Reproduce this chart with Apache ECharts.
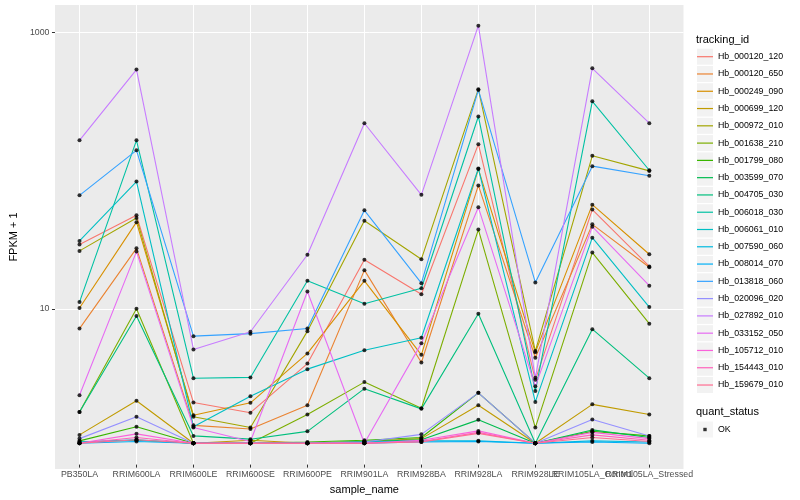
<!DOCTYPE html>
<html>
<head>
<meta charset="utf-8">
<script src="https://cdn.jsdelivr.net/npm/echarts@6/dist/echarts.min.js"></script>
<style>html,body{margin:0;padding:0;background:#fff}#c{width:800px;height:500px}</style>
</head>
<body>
<div id="c"></div>
<script>
// ---- data ----
const categories = ['PB350LA','RRIM600LA','RRIM600LE','RRIM600SE','RRIM600PE','RRIM901LA','RRIM928BA','RRIM928LA','RRIM928LE','RRIM105LA_Control','RRIM105LA_Stressed'];
const trackingIds = ['Hb_000120_120','Hb_000120_650','Hb_000249_090','Hb_000699_120','Hb_000972_010','Hb_001638_210','Hb_001799_080','Hb_003599_070','Hb_004705_030','Hb_006018_030','Hb_006061_010','Hb_007590_060','Hb_008014_070','Hb_013818_060','Hb_020096_020','Hb_027892_010','Hb_033152_050','Hb_105712_010','Hb_154443_010','Hb_159679_010'];
const colors = ['#F8766D','#EA8331','#D89000','#C09B00','#A3A500','#7CAE00','#39B600','#00BB4E','#00BF7D','#00C1A3','#00BFC4','#00BAE0','#00B0F6','#35A2FF','#9590FF','#C77CFF','#E76BF3','#FA62DB','#FF62BC','#FF6C91'];

// FPKM + 1 per sample, in category order
const hb_000120_120 = [28.2, 46, 1.98, 1.67, 3.81, 21.8, 12.2, 152, 2.9, 50.6, 19.5];
const hb_000120_650 = [6.86, 26.4, 1.35, 1.27, 1.89, 18.3, 3.88, 76, 4.2, 39.5, 19.2];
const hb_000249_090 = [9.7, 41, 1.6, 1.97, 4.52, 15.3, 4.41, 100, 4.6, 55, 23.9];
const hb_000699_120 = [1.15, 2.04, 1.0, 1.05, 1.0, 1.03, 1.08, 1.89, 1.0, 1.92, 1.62];
const hb_000972_010 = [25.3, 44, 1.56, 1.3, 6.57, 42, 22, 383, 4.7, 125, 97];
const hb_001638_210 = [1.69, 9.57, 1.0, 1.0, 1.62, 2.79, 1.8, 36.2, 1.3, 24.6, 7.45];
const hb_001799_080 = [1.04, 1.32, 1.0, 1.0, 1.02, 1.05, 1.1, 2.33, 1.0, 1.22, 1.13];
const hb_003599_070 = [1.02, 1.05, 1.0, 1.0, 1.0, 1.03, 1.06, 1.48, 1.0, 1.25, 1.1];
const hb_004705_030 = [1.69, 8.47, 1.13, 1.07, 1.22, 2.5, 1.78, 8.8, 1.0, 6.79, 2.98];
const hb_006018_030 = [10.7, 162, 2.98, 3.02, 15.3, 10.4, 13.5, 242, 2.4, 312, 98];
const hb_006061_010 = [29.9, 81, 1.32, 2.2, 3.47, 4.76, 5.88, 101, 2.0, 31.6, 9.85];
const hb_007590_060 = [1.02, 1.06, 1.0, 1.0, 1.0, 1.02, 1.04, 1.04, 1.0, 1.04, 1.02];
const hb_008014_070 = [1.0, 1.03, 1.0, 1.0, 1.0, 1.0, 1.02, 1.03, 1.0, 1.02, 1.0];
const hb_013818_060 = [64.3, 137, 6.04, 6.3, 6.86, 50, 14.7, 378, 14.9, 105, 89.3];
const hb_020096_020 = [1.08, 1.56, 1.0, 1.0, 1.0, 1.02, 1.16, 2.33, 1.0, 1.49, 1.13];
const hb_027892_010 = [162, 532, 4.83, 6.5, 23.7, 216, 64.9, 1112, 3.0, 543, 216];
const hb_033152_050 = [2.24, 25, 1.3, 1.03, 12.8, 1.0, 5.35, 52.6, 2.6, 38, 14.1];
const hb_105712_010 = [1.0, 1.17, 1.0, 1.0, 1.0, 1.0, 1.05, 1.23, 1.0, 1.2, 1.08];
const hb_154443_010 = [1.0, 1.1, 1.0, 1.0, 1.0, 1.0, 1.03, 1.2, 1.0, 1.15, 1.05];
const hb_159679_010 = [1.0, 1.06, 1.0, 1.0, 1.0, 1.0, 1.02, 1.18, 1.0, 1.1, 1.03];

const yTickLabels = [10, 1000];
const quantStatus = ['OK'];

// ---- chart ----
const seriesValues = [hb_000120_120, hb_000120_650, hb_000249_090, hb_000699_120, hb_000972_010, hb_001638_210, hb_001799_080, hb_003599_070, hb_004705_030, hb_006018_030, hb_006061_010, hb_007590_060, hb_008014_070, hb_013818_060, hb_020096_020, hb_027892_010, hb_033152_050, hb_105712_010, hb_154443_010, hb_159679_010];

const FONT = '"Liberation Sans", Arial, Helvetica, sans-serif';
const YMIN = 0.698, YMAX = 1574;
const LINE_ICON = 'path://M0,0L0,0M0,7.4L16,7.4L16,8.6L0,8.6ZM16,16L16,16';
const DOT_ICON = 'path://M0,0L0,0M6.3,6.3L9.7,6.3L9.7,9.7L6.3,9.7ZM16,16L16,16';

const lineSeries = trackingIds.map((id, k) => ({
  name: id, type: 'line', xAxisIndex: 1, yAxisIndex: 1,
  data: seriesValues[k], showSymbol: false, symbol: 'none',
  color: colors[k], lineStyle: { width: 1.1, color: colors[k] },
  silent: true, z: 2
}));
const pointData = [];
seriesValues.forEach(vals => vals.forEach((v, i) => pointData.push([i, v])));
const pointSeries = {
  name: quantStatus[0], type: 'scatter', xAxisIndex: 1, yAxisIndex: 1,
  data: pointData, symbol: 'circle', symbolSize: 4,
  itemStyle: { color: '#000' }, silent: true, z: 5
};

const legendBase = {
  orient: 'vertical', left: 697, itemWidth: 16, itemHeight: 16, itemGap: 1.28,
  selectedMode: false, padding: 0,
  textStyle: { fontFamily: FONT, fontSize: 8.8, color: '#000' }
};
const hidden = { fontFamily: FONT, fontSize: 8.8, color: 'rgba(0,0,0,0)' };

const option = {
  animation: false,
  textStyle: { fontFamily: FONT },
  title: [
    { text: 'tracking_id', left: 696, top: 34, padding: 0, textStyle: { fontFamily: FONT, fontSize: 11, fontWeight: 'normal', color: '#000' } },
    { text: 'quant_status', left: 696, top: 406.5, padding: 0, textStyle: { fontFamily: FONT, fontSize: 11, fontWeight: 'normal', color: '#000' } }
  ],
  legend: [
    Object.assign({}, legendBase, { top: 48.7, z: 3, data: trackingIds, icon: 'rect', itemStyle: { color: '#F2F2F2', borderWidth: 0 }, textStyle: hidden }),
    Object.assign({}, legendBase, { top: 48.7, z: 6, data: trackingIds.map((id, k) => ({ name: id, icon: LINE_ICON, itemStyle: { color: colors[k], borderWidth: 0 } })) }),
    Object.assign({}, legendBase, { top: 421.5, z: 3, data: quantStatus, icon: 'rect', itemStyle: { color: '#F2F2F2', borderWidth: 0 }, textStyle: hidden }),
    Object.assign({}, legendBase, { top: 421.5, z: 6, data: quantStatus.map(n => ({ name: n, icon: DOT_ICON, itemStyle: { color: '#000', borderWidth: 0 } })) })
  ],
  grid: [
    { left: 45, right: 116.5, top: 5, bottom: 31, show: true, backgroundColor: '#EBEBEB', borderWidth: 0 },
    { left: 79.5, right: 150.7, top: 5, bottom: 31, show: false }
  ],
  xAxis: [
    { gridIndex: 0, type: 'value', min: 0, max: 1, show: false },
    {
      gridIndex: 1, type: 'category', data: categories, boundaryGap: false,
      axisLine: { show: false },
      axisTick: { show: true, interval: 0, length: 3, lineStyle: { color: '#333', width: 1 } },
      axisLabel: { interval: 0, margin: 5.5, fontFamily: FONT, fontSize: 8.8, color: '#4D4D4D' },
      splitLine: { show: true, interval: 0, lineStyle: { color: '#fff', width: 1 } },
      name: 'sample_name', nameLocation: 'middle', nameGap: 15,
      nameTextStyle: { fontFamily: FONT, fontSize: 11, color: '#000' }
    }
  ],
  yAxis: [
    {
      gridIndex: 0, type: 'log', logBase: 10, min: YMIN, max: YMAX,
      axisLine: { show: false },
      axisTick: { show: true, length: 3, customValues: yTickLabels, lineStyle: { color: '#333', width: 1 } },
      axisLabel: {
        customValues: yTickLabels, margin: 5.5, fontFamily: FONT, fontSize: 8.8, color: '#4D4D4D',
        formatter: v => (yTickLabels.some(t => Math.abs(v - t) / t < 1e-6) ? String(Math.round(v)) : '')
      },
      splitLine: { show: true, lineStyle: { color: '#fff', width: 1 } },
      name: 'FPKM + 1', nameLocation: 'middle', nameGap: 27,
      nameTextStyle: { fontFamily: FONT, fontSize: 11, color: '#000' }
    },
    { gridIndex: 1, type: 'log', logBase: 10, min: YMIN, max: YMAX, show: false }
  ],
  series: lineSeries.concat([pointSeries])
};

const chart = echarts.init(document.getElementById('c'));
chart.setOption(option);
</script>
</body>
</html>
